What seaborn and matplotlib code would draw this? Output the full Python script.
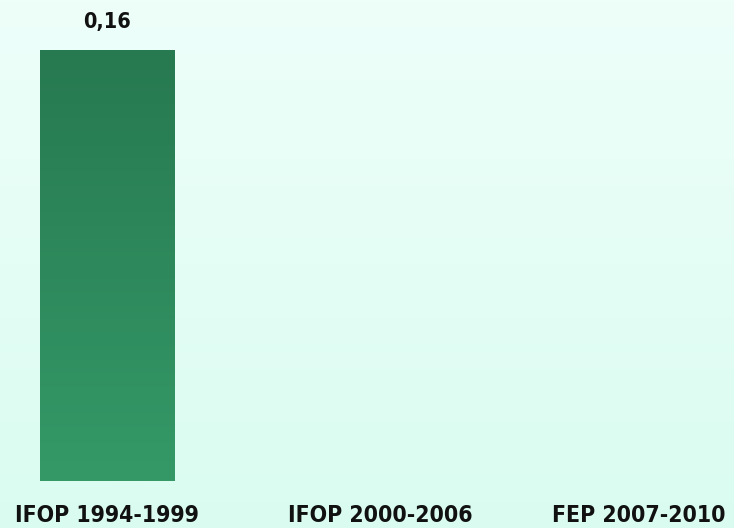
import numpy as np
import pandas as pd
import matplotlib
matplotlib.use("Agg")
import matplotlib.pyplot as plt
from matplotlib.colors import LinearSegmentedColormap
from matplotlib.transforms import offset_copy
import seaborn as sns

categories = ["IFOP 1994-1999", "IFOP 2000-2006", "FEP 2007-2010"]
values = [0.16, 0.0, 0.0]
value_labels = ["0,16", "", ""]

sns.set_theme(style="white")
plt.rcParams["font.family"] = ["DejaVu Sans"]

fig = plt.figure(figsize=(7.34, 5.28), dpi=100)
ax = fig.add_axes([0, 0, 1, 1])

df = pd.DataFrame({"periodo": categories, "valor": values})
sns.barplot(data=df, x="periodo", y="valor", ax=ax, width=0.49,
            color="#2E8B5E", saturation=1, linewidth=0)

XLIM = (-0.39, 2.29)
YLIM = (-0.0175, 0.1786)
ax.axis("off")

# soft mint background, lighter at the top
bg = LinearSegmentedColormap.from_list("bg", ["#DAFCF0", "#EEFFFA"])
grad = np.linspace(0, 1, 256).reshape(-1, 1)
ax.imshow(grad, cmap=bg, aspect="auto", origin="lower",
          extent=[*XLIM, *YLIM], zorder=0)

# vertical gradient fill for each bar
barcmap = LinearSegmentedColormap.from_list("bar", ["#349967", "#277950"])
for patch in ax.patches:
    h = patch.get_height()
    if h <= 0:
        continue
    x0 = patch.get_x()
    w = patch.get_width()
    im = ax.imshow(grad, cmap=barcmap, aspect="auto", origin="lower",
                   extent=[x0, x0 + w, 0, h], zorder=2)
    im.set_clip_path(patch)
    patch.set_facecolor("none")

ax.set_xlim(*XLIM)
ax.set_ylim(*YLIM)

for i, (v, lab) in enumerate(zip(values, value_labels)):
    if lab:
        ax.text(i, v + 0.0104, lab, ha="center", va="center",
                fontsize=15.5, fontweight="bold", color="#111111",
                fontstretch="condensed", zorder=3)

# category labels; keep the last one inside the right edge
renderer = fig.canvas.get_renderer()
fig_w = fig.bbox.width
for i, c in enumerate(categories):
    t = ax.text(i, -0.0130, c, ha="center", va="center",
                fontsize=16.5, fontweight="bold", color="#111111",
                fontstretch="condensed", zorder=3)
    bb = t.get_window_extent(renderer)
    overflow = bb.x1 - (fig_w - 8)
    if overflow > 0:
        t.set_transform(offset_copy(ax.transData, fig=fig,
                                    x=-overflow, y=0, units="dots"))

fig.savefig("out.png", dpi=100)
